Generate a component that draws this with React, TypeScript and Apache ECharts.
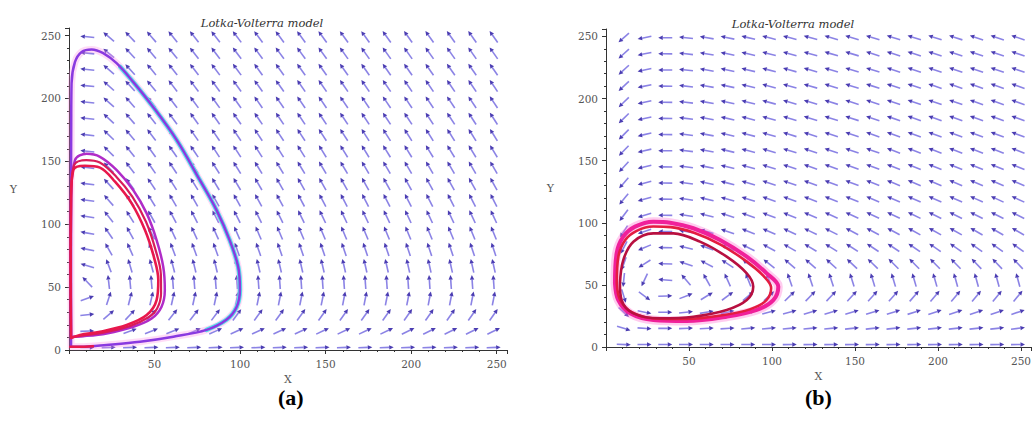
import React, { useEffect, useRef } from "react";
import * as echarts from "echarts";

// ---- axis ----
const AXIS_MAX = 256;
const TICK_STEP = 50;
const TITLE_TEXT = "Lotka-Volterra model";
const PANEL_LABELS = ["(a)", "(b)"];

// ---- direction-field sample grid ----
const FIELD_X = [10.7, 23.2, 35.7, 48.2, 60.7, 73.2, 85.7, 98.2, 110.7, 123.2, 135.7, 148.2, 160.7, 173.2, 185.7, 198.2, 210.7, 223.2, 235.7, 248.2];
const FIELD_Y = [2, 15, 28, 41, 54, 67, 80, 93, 106, 119, 132, 145, 158, 171, 184, 197, 210, 223, 236, 249];

// ---- Lotka-Volterra parameters: dx/dt = x(a - b y), dy/dt = y(-c + d x) ----
const LEFT_A = 1.0, LEFT_B = 0.02, LEFT_C = 0.32, LEFT_D = 0.032;
const RIGHT_A = 1.0, RIGHT_B = 0.02, RIGHT_C = 0.294, RIGHT_D = 0.0084;

// ---- trajectories, [x, y] ----
const LEFT_OUTER = [[1.2,2.6],[1.2,13.5],[1.2,60],[1.2,119],[1.3,180],[1.5,212],[3.5,229],[7.4,237],[13.2,239],[20,236],[27.8,228],[37.6,213],[49.3,193],[62.9,167],[76.5,135],[86.3,111],[94,87],[98.9,66],[99.9,48],[97.9,34],[92,24],[80.4,16],[61,10.6],[41.5,6.6],[22,4],[8.4,2.6],[1.2,2.6]];
const LEFT_OUTER_CYAN = [[30,225],[37.6,213],[49.3,193],[62.9,167],[76.5,135],[86.3,111],[94,87],[98.9,66],[99.9,48],[97.9,34],[92,24],[80.4,16]];
const LEFT_LOOP_A = [[1.2,10.6],[1.0,60],[1.2,120],[3.5,151],[10.3,156],[18.1,153.6],[27.9,143],[37.6,127],[45.4,108.6],[51.2,87.4],[55.1,66],[56,47.7],[54.1,34.4],[48.3,25],[37.6,18.5],[22,13.2],[8.4,11],[1.2,10.6]];
const LEFT_LOOP_B = [[1.2,9.5],[1.0,60],[1.2,120],[2.5,143],[9.3,146.5],[18.1,145],[26.9,133.8],[36.6,116.6],[44.4,95.4],[49.6,74],[52.2,55.6],[51.2,39.7],[45.4,27.8],[33.7,19.9],[18.1,14.5],[6.4,11.9],[1.2,9.5]];
const LEFT_LOOP_C = [[1.2,10],[1.0,60],[1.2,120],[3,147],[10,151],[18,149],[27.5,138],[37,122],[45,102],[50.5,80],[53.7,60],[53.8,45],[51.5,33],[46.5,26],[35.5,19],[20,13.8],[7.4,11.4],[1.2,10]];
const LEFT_BOTTOM_RED = [[0.8,2.6],[6,2.6],[14,3.0]];

const RIGHT_OUTER = [[5.4,51.3],[6.4,75.4],[10.4,88.8],[17.5,96.9],[28.5,100.9],[38.6,100.1],[52.6,95.6],[68.7,86.2],[84.8,72.7],[96.8,59.3],[103.8,48.6],[100.8,37.8],[90.8,29.8],[72.7,24.4],[48.6,20.9],[28.5,21.7],[14.5,27.1],[7.4,37.8],[5.4,51.3]];
const RIGHT_MIDDLE = [[6.5,51],[7.5,73],[11.5,86],[18.5,93.5],[28.5,97],[39,96.5],[53,92],[69,82.5],[84,69.5],[95,57],[99.5,47.5],[96.5,37.5],[87,30.5],[70,25.5],[48,22.5],[29,23],[15.5,28],[8.5,38],[6.5,51]];
const RIGHT_INNER = [[8.4,51.3],[10.4,70],[16.5,84.8],[28.5,91.5],[40.6,91.5],[56.6,84.8],[72.7,72.7],[84.8,59.3],[88.7,48.6],[84.8,37.8],[72.7,29.8],[52.6,24.4],[32.5,23.1],[16.5,27.1],[9.4,37.8],[8.4,51.3]];

function fieldData(a: number, b: number, c: number, d: number) {
  const out: number[][] = [];
  for (const x of FIELD_X) {
    for (const y of FIELD_Y) {
      out.push([x, y, x * (a - b * y), y * (-c + d * x)]);
    }
  }
  return out;
}

const ARROW_LEN = 14;

function renderArrow(_params: any, api: any) {
  const x = api.value(0), y = api.value(1), u = api.value(2), v = api.value(3);
  const m = Math.hypot(u, v) || 1;
  const p0 = api.coord([x, y]);
  const p1 = api.coord([x + u / m, y + v / m]);
  let dx = p1[0] - p0[0], dy = p1[1] - p0[1];
  const l = Math.hypot(dx, dy) || 1;
  dx /= l; dy /= l;
  const h = ARROW_LEN / 2;
  const sx = p0[0] - dx * h, sy = p0[1] - dy * h;
  const ex = p0[0] + dx * h, ey = p0[1] + dy * h;
  const nx = -dy, ny = dx;
  const hl = 4.5, hw = 2.2;
  const bx = ex - dx * hl, by = ey - dy * hl;
  return {
    type: "group",
    children: [
      { type: "line", shape: { x1: sx, y1: sy, x2: bx, y2: by }, style: { stroke: "rgba(100,90,220,0.75)", lineWidth: 1.6 } },
      { type: "polygon", shape: { points: [[ex, ey], [bx + nx * hw, by + ny * hw], [bx - nx * hw, by - ny * hw]] }, style: { fill: "rgba(55,40,170,0.9)" } },
    ],
  };
}

const labelStyle = { fontFamily: "DejaVu Serif", fontSize: 10.5, color: "#555" };

function makeX(gridIndex: number) {
  return {
    type: "value", gridIndex, min: 0, max: AXIS_MAX, interval: TICK_STEP,
    name: "X", nameLocation: "middle", nameGap: 24,
    nameTextStyle: { fontFamily: "DejaVu Serif", fontSize: 11, color: "#555" },
    axisLine: { show: true, lineStyle: { color: "#333", width: 1 } },
    axisTick: { show: true, length: 4, lineStyle: { color: "#333" } },
    minorTick: { show: true, splitNumber: 5, length: 2, lineStyle: { color: "#333" } },
    axisLabel: { ...labelStyle, margin: 8, formatter: (val: number) => (val > 0 && val % TICK_STEP === 0 ? String(val) : "") },
    splitLine: { show: false },
  };
}
function makeY(gridIndex: number) {
  return {
    type: "value", gridIndex, min: 0, max: AXIS_MAX, interval: TICK_STEP,
    name: "Y", nameLocation: "middle", nameGap: 52, nameRotate: 0,
    nameTextStyle: { fontFamily: "DejaVu Serif", fontSize: 11, color: "#555" },
    axisLine: { show: true, lineStyle: { color: "#333", width: 1 } },
    axisTick: { show: true, length: 4, lineStyle: { color: "#333" } },
    minorTick: { show: true, splitNumber: 5, length: 2, lineStyle: { color: "#333" } },
    axisLabel: { ...labelStyle, margin: 8, formatter: (val: number) => (val % TICK_STEP === 0 ? String(val) : "") },
    splitLine: { show: false },
  };
}

function orbit(data: number[][], idx: number, color: string, width: number, z = 3) {
  return {
    type: "line", xAxisIndex: idx, yAxisIndex: idx, data, smooth: 0.35,
    showSymbol: false, symbol: "none", z,
    lineStyle: { color, width, cap: "round", join: "round" },
  };
}

export default function App() {
  const ref = useRef<HTMLDivElement>(null);
  useEffect(() => {
    if (!ref.current) return;
    const chart = echarts.init(ref.current, undefined, { renderer: "svg" });
    chart.setOption({
      animation: false,
      backgroundColor: "#ffffff",
      title: [
        { text: TITLE_TEXT, left: 257, top: 12, textAlign: "center", textStyle: { fontFamily: "DejaVu Serif", fontStyle: "italic", fontWeight: "normal", fontSize: 11.5, color: "#333" } },
        { text: TITLE_TEXT, left: 788, top: 13, textAlign: "center", textStyle: { fontFamily: "DejaVu Serif", fontStyle: "italic", fontWeight: "normal", fontSize: 11.5, color: "#333" } },
      ],
      grid: [
        { left: 69, top: 28, width: 438, height: 322 },
        { left: 606, top: 29, width: 425, height: 318 },
      ],
      xAxis: [makeX(0), makeX(1)],
      yAxis: [makeY(0), makeY(1)],
      graphic: [
        { type: "text", left: 278, top: 386, style: { text: PANEL_LABELS[0], font: "bold 22px 'Liberation Serif'", fill: "#000" } },
        { type: "text", left: 805, top: 386, style: { text: PANEL_LABELS[1], font: "bold 22px 'Liberation Serif'", fill: "#000" } },
      ],
      series: [
        { type: "custom", xAxisIndex: 0, yAxisIndex: 0, data: fieldData(LEFT_A, LEFT_B, LEFT_C, LEFT_D), renderItem: renderArrow, encode: { x: 0, y: 1 }, z: 2, silent: true },
        { type: "custom", xAxisIndex: 1, yAxisIndex: 1, data: fieldData(RIGHT_A, RIGHT_B, RIGHT_C, RIGHT_D), renderItem: renderArrow, encode: { x: 0, y: 1 }, z: 2, silent: true },
        orbit(LEFT_OUTER, 0, "rgba(255,140,230,0.3)", 7, 3),
        orbit(LEFT_OUTER_CYAN, 0, "#55e4e8", 4.5, 3),
        orbit(LEFT_OUTER, 0, "#8a3ae0", 2.5, 4),
        orbit(LEFT_LOOP_A, 0, "#b02cc8", 2.5, 4),
        orbit(LEFT_LOOP_C, 0, "#d81c5a", 2.2, 4),
        orbit(LEFT_LOOP_B, 0, "#e8184c", 2.6, 4),
        orbit(LEFT_BOTTOM_RED, 0, "#e8184c", 2.6, 5),
        orbit(RIGHT_OUTER, 1, "rgba(255,110,210,0.35)", 9, 3),
        orbit(RIGHT_OUTER, 1, "#f0209a", 4, 4),
        orbit(RIGHT_MIDDLE, 1, "#e41c40", 2.6, 4),
        orbit(RIGHT_INNER, 1, "#b81040", 2.6, 4),
      ],
    });
    return () => chart.dispose();
  }, []);
  return <div ref={ref} style={{ position: "absolute", left: 0, top: 0, width: 1034, height: 426, background: "#fff" }} />;
}
